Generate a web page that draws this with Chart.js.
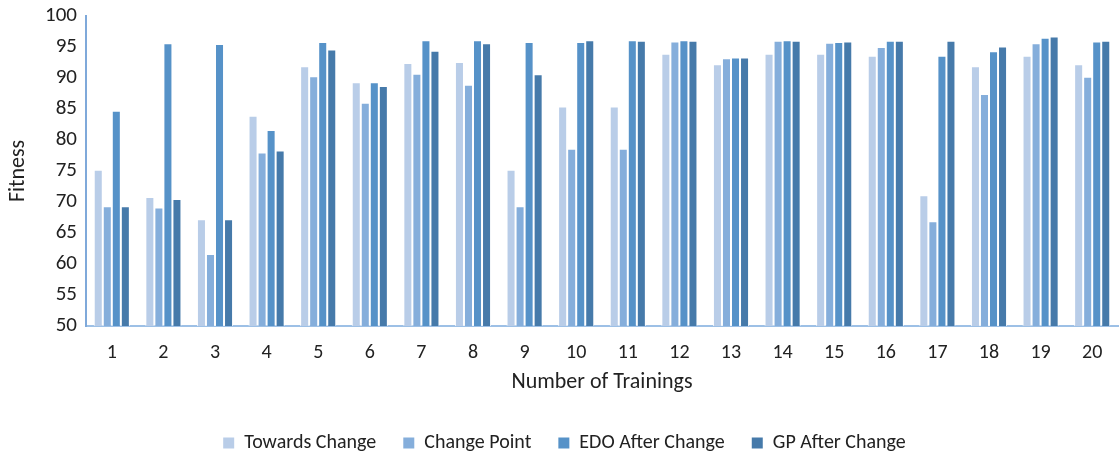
<!DOCTYPE html>
<html>
<head>
<meta charset="utf-8">
<script src="https://cdn.jsdelivr.net/npm/chart.js@4.4.0/dist/chart.umd.min.js"></script>
<style>
  html, body { margin: 0; padding: 0; background: #ffffff; }
  #wrap { width: 1119px; height: 453px; position: relative; }
</style>
</head>
<body>
<div id="wrap"><canvas id="c" width="1119" height="453"></canvas></div>
<script>
// Training runs 1..20
const trainings = ['1','2','3','4','5','6','7','8','9','10','11','12','13','14','15','16','17','18','19','20'];

// Fitness per run for each stage
const towardsChange = [75.2, 70.8, 67.2, 83.9, 91.9, 89.3, 92.4, 92.6, 75.2, 85.4, 85.4, 93.9, 92.2, 93.9, 93.9, 93.6, 71.1, 91.9, 93.6, 92.2];
const changePoint   = [69.3, 69.1, 61.6, 78.0, 90.3, 86.0, 90.7, 88.9, 69.3, 78.6, 78.6, 95.9, 93.2, 96.0, 95.7, 95.0, 66.9, 87.4, 95.6, 90.2];
const edoAfter      = [84.7, 95.6, 95.5, 81.6, 95.8, 89.3, 96.1, 96.1, 95.8, 95.8, 96.1, 96.1, 93.3, 96.1, 95.8, 96.0, 93.6, 94.3, 96.5, 95.9];
const gpAfter       = [69.3, 70.5, 67.2, 78.3, 94.6, 88.7, 94.4, 95.6, 90.6, 96.1, 96.0, 96.0, 93.3, 96.0, 95.9, 96.0, 96.0, 95.1, 96.7, 96.0];

const seriesNames = ['Towards Change', 'Change Point', 'EDO After Change', 'GP After Change'];
const seriesColors = ['#B9CDE8', '#85AEDB', '#5692C8', '#467AAA'];

const FONT = 'Carlito, Lato, "Open Sans", sans-serif';

function makeSet(i, values) {
  return {
    label: seriesNames[i],
    data: values,
    backgroundColor: seriesColors[i],
    borderColor: 'rgba(255,255,255,0.85)',
    borderWidth: { left: 1, right: 1, top: 1, bottom: 0 },
    borderSkipped: false,
    categoryPercentage: 0.70,
    barPercentage: 1.0
  };
}

new Chart(document.getElementById('c'), {
  type: 'bar',
  data: {
    labels: trainings,
    datasets: [
      makeSet(0, towardsChange),
      makeSet(1, changePoint),
      makeSet(2, edoAfter),
      makeSet(3, gpAfter)
    ]
  },
  options: {
    responsive: false,
    animation: false,
    layout: { padding: { top: 16, right: 1, bottom: -10, left: 11 } },
    plugins: {
      tooltip: { enabled: false },
      legend: {
        position: 'bottom',
        labels: {
          font: { family: FONT, size: 20 },
          color: '#222222',
          boxWidth: 11,
          boxHeight: 11,
          padding: 27,
          generateLabels(chart) {
            return chart.data.datasets.map((ds, i) => ({
              text: ds.label,
              fillStyle: seriesColors[i],
              strokeStyle: seriesColors[i],
              lineWidth: 0,
              fontColor: '#222222',
              hidden: false,
              datasetIndex: i
            }));
          }
        }
      }
    },
    scales: {
      x: {
        grid: { display: false, drawTicks: false },
        border: { display: true, color: '#9DC0E6', width: 2 },
        ticks: { font: { family: FONT, size: 20 }, color: '#222222', padding: 15 },
        title: {
          display: true,
          text: 'Number of Trainings',
          font: { family: FONT, size: 22 },
          color: '#222222',
          padding: { top: 4, bottom: 10 }
        },
        afterFit(scale) { scale.height = 80; }
      },
      y: {
        min: 50,
        max: 100,
        grid: { display: false, drawTicks: false },
        border: { display: true, color: '#7FA9DA', width: 2 },
        ticks: { stepSize: 5, font: { family: FONT, size: 21 }, color: '#222222', padding: 9 },
        title: {
          display: true,
          text: 'Fitness',
          font: { family: FONT, size: 22 },
          color: '#222222',
          padding: { top: -6, bottom: 4 }
        },
        afterFit(scale) {
          scale.width = 75;
          scale.paddingTop = 0;
          scale.paddingBottom = 0;
        }
      }
    }
  }
});
</script>
</body>
</html>
